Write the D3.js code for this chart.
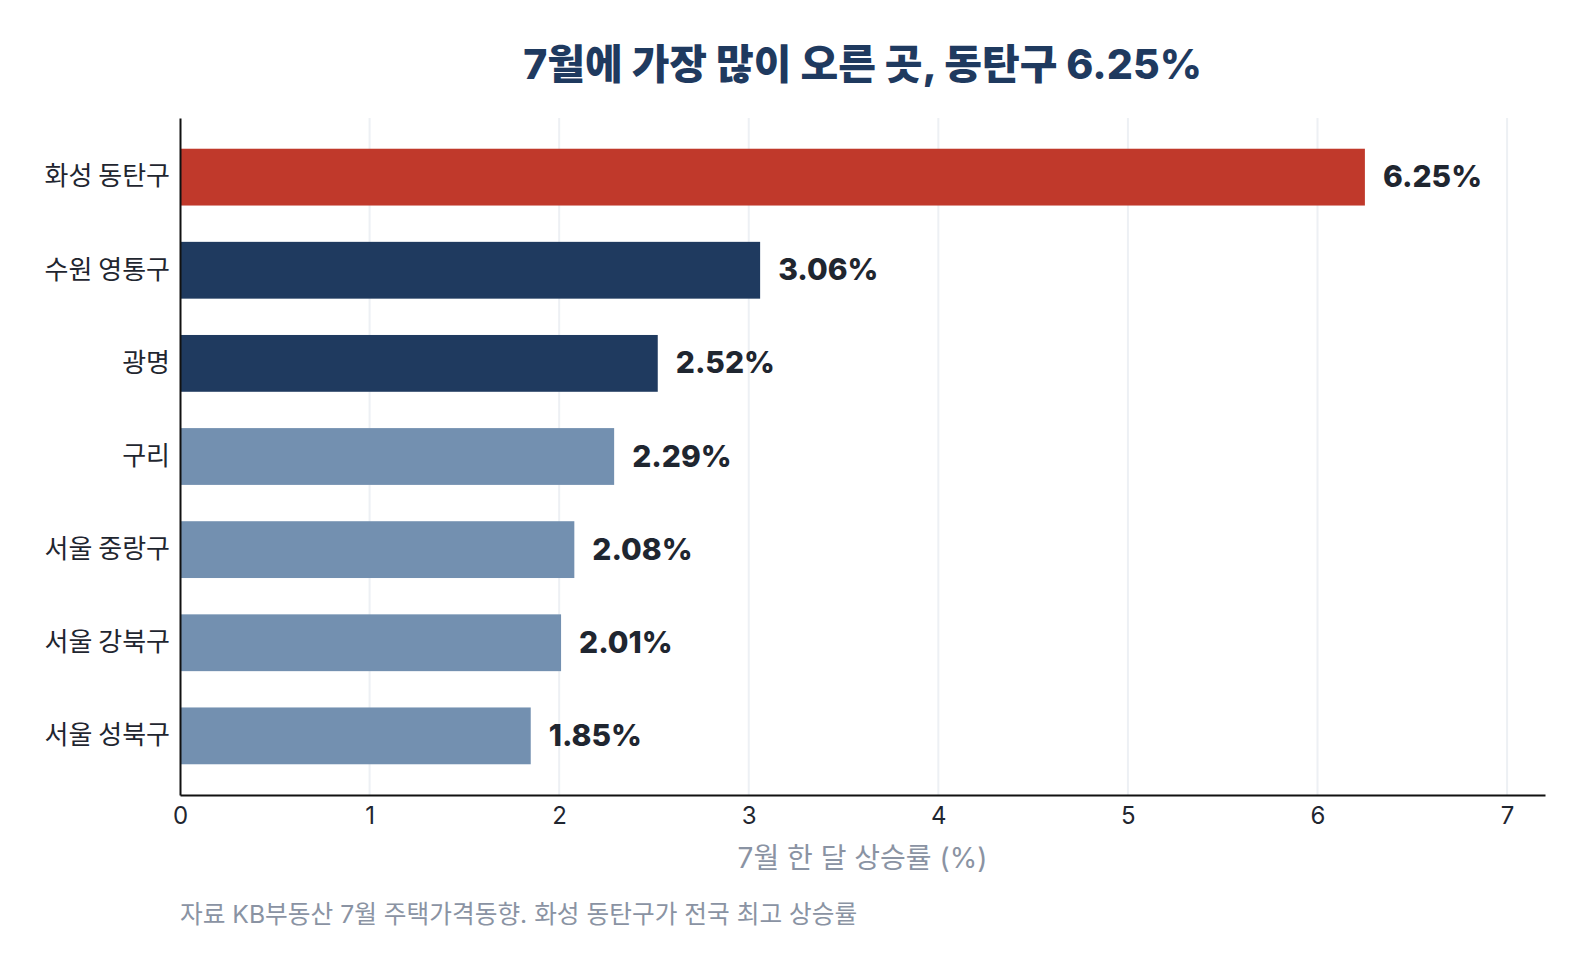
<!DOCTYPE html>
<html>
<head>
<meta charset="utf-8">
<script src="https://cdn.jsdelivr.net/npm/d3@7"></script>
<style>
  body { margin: 0; background: #fff; }
  text { font-family: Inter, "Noto Sans CJK KR", sans-serif; }
</style>
</head>
<body>
<div id="chart"></div>
<script>
  // data
  const regions = ['화성 동탄구', '수원 영통구', '광명', '구리', '서울 중랑구', '서울 강북구', '서울 성북구'];
  const rates = [6.25, 3.06, 2.52, 2.29, 2.08, 2.01, 1.85];
  const tiers = ['top', 'high', 'high', 'mid', 'mid', 'mid', 'mid'];
  const xTicks = [0, 1, 2, 3, 4, 5, 6, 7];

  const colors = { top: '#c0392b', high: '#1f3a5f', mid: '#7390b0' };

  const W = 1588;
  const H = 973;
  const margin = { top: 118, right: 43, bottom: 178, left: 180 };

  const svg = d3.select('#chart').append('svg')
    .attr('width', W)
    .attr('height', H);

  const x = d3.scaleLinear()
    .domain([0, 7.2])
    .range([margin.left, W - margin.right]);

  const y = d3.scaleBand()
    .domain(regions)
    .range([margin.top, H - margin.bottom])
    .paddingInner(0.39)
    .paddingOuter(0.33);

  // grid
  svg.append('g')
    .selectAll('line')
    .data(xTicks.filter(d => d > 0))
    .join('line')
    .attr('x1', d => x(d))
    .attr('x2', d => x(d))
    .attr('y1', margin.top)
    .attr('y2', H - margin.bottom)
    .attr('stroke', '#edf0f4')
    .attr('stroke-width', 2);

  // bars
  svg.append('g')
    .selectAll('rect')
    .data(regions)
    .join('rect')
    .attr('x', x(0))
    .attr('y', d => y(d))
    .attr('width', (d, i) => x(rates[i]) - x(0))
    .attr('height', y.bandwidth())
    .attr('fill', (d, i) => colors[tiers[i]]);

  // value labels
  svg.append('g')
    .selectAll('text')
    .data(regions)
    .join('text')
    .attr('x', (d, i) => x(rates[i]) + 18)
    .attr('y', d => y(d) + y.bandwidth() / 2 - 1)
    .attr('dominant-baseline', 'central')
    .attr('font-size', '30px')
    .attr('font-weight', 800)
    .attr('fill', '#1f2630')
    .text((d, i) => rates[i].toFixed(2) + '%');

  // x axis
  const xAxis = svg.append('g')
    .attr('transform', `translate(0,${H - margin.bottom})`)
    .call(d3.axisBottom(x).tickValues(xTicks).tickSize(0).tickPadding(12));
  xAxis.select('.domain').attr('stroke', '#111').attr('stroke-width', 2);
  xAxis.selectAll('.tick text')
    .attr('font-size', '24px')
    .attr('fill', '#1f2630')
    .style('font-family', 'Inter, "Noto Sans CJK KR", sans-serif');

  // y axis
  const yAxis = svg.append('g')
    .attr('transform', `translate(${margin.left},0)`)
    .call(d3.axisLeft(y).tickSize(0).tickPadding(10));
  yAxis.select('.domain').attr('stroke', '#111').attr('stroke-width', 2);
  yAxis.selectAll('.tick text')
    .attr('font-size', '26px')
    .attr('fill', '#1f2630')
    .style('font-family', '"Noto Sans CJK KR", sans-serif');

  // title
  svg.append('text')
    .attr('x', (x.range()[0] + x.range()[1]) / 2)
    .attr('y', 79)
    .attr('text-anchor', 'middle')
    .attr('font-size', '41px')
    .attr('font-weight', 800)
    .attr('fill', '#1f3a5f')
    .text('7월에 가장 많이 오른 곳, 동탄구 6.25%');

  // axis title
  svg.append('text')
    .attr('x', (x.range()[0] + x.range()[1]) / 2)
    .attr('y', 868)
    .attr('text-anchor', 'middle')
    .attr('font-size', '28px')
    .attr('fill', '#8a93a3')
    .text('7월 한 달 상승률 (%)');

  // source note
  svg.append('text')
    .attr('x', margin.left)
    .attr('y', 923)
    .attr('font-size', '24.7px')
    .attr('fill', '#8a93a3')
    .text('자료 KB부동산 7월 주택가격동향. 화성 동탄구가 전국 최고 상승률');
</script>
</body>
</html>
